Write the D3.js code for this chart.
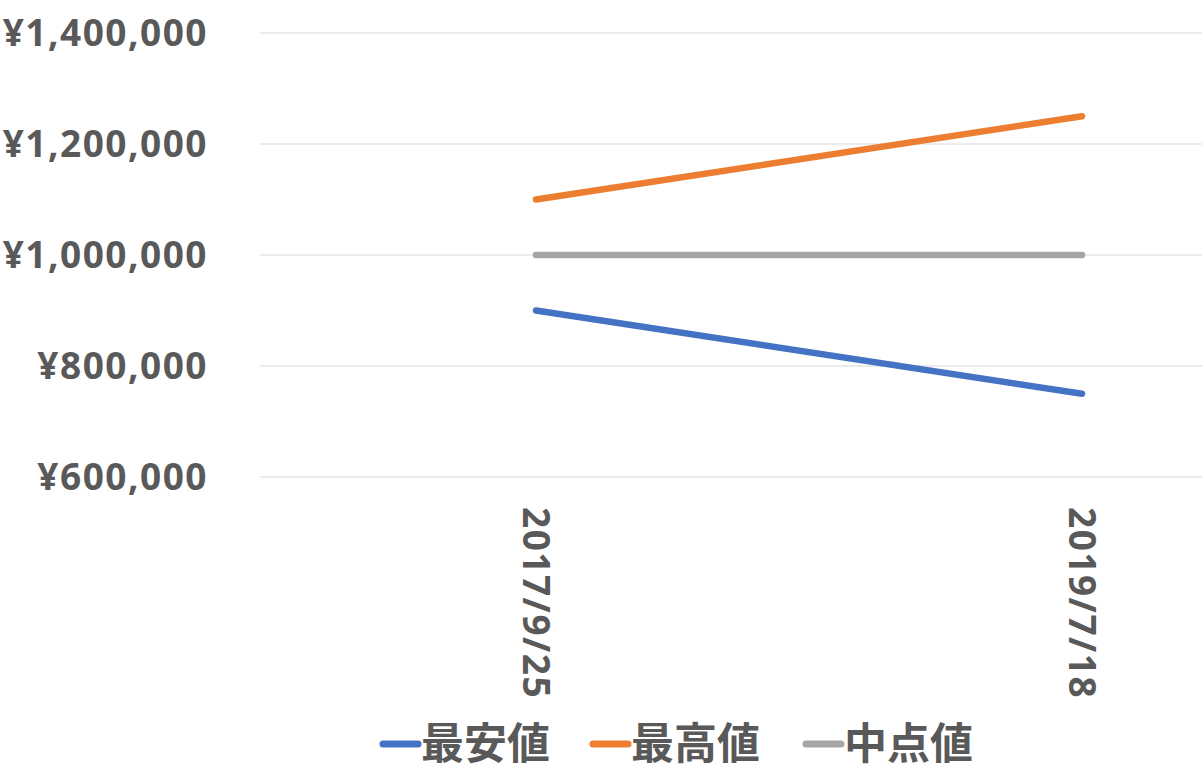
<!DOCTYPE html>
<html>
<head>
<meta charset="utf-8">
<script src="https://cdn.jsdelivr.net/npm/d3@7"></script>
<style>
  body { margin: 0; background: #fff; }
  svg { display: block; }
  text { fill: #595959; font-weight: bold; }
</style>
</head>
<body>
<div id="chart"></div>
<script>
// data
const dates = ['2017/9/25', '2019/7/18'];
const seriesNames = ['最安値', '最高値', '中点値'];
const lowVals = [900000, 750000];
const highVals = [1100000, 1250000];
const midVals = [1000000, 1000000];
const yTicks = [600000, 800000, 1000000, 1200000, 1400000];
const colors = ['#4472C4', '#ED7D31', '#A5A5A5'];

const width = 1202, height = 783;

const svg = d3.select('#chart').append('svg')
  .attr('width', width)
  .attr('height', height);

// plot area runs off the right edge, like the original crop
const x = d3.scaleBand()
  .domain(dates)
  .range([263, 1355]);

const y = d3.scaleLinear()
  .domain([600000, 1400000])
  .range([477, 33]);

const fmt = d => '¥' + d3.format(',')(d);

// gridlines
svg.append('g')
  .selectAll('line')
  .data(yTicks)
  .join('line')
  .attr('x1', 260)
  .attr('x2', width)
  .attr('y1', d => y(d))
  .attr('y2', d => y(d))
  .attr('stroke', '#D9D9D9')
  .attr('stroke-width', 1);

// y labels
svg.append('g')
  .selectAll('text')
  .data(yTicks)
  .join('text')
  .attr('x', 208)
  .attr('y', d => y(d))
  .attr('dy', '0.36em')
  .attr('text-anchor', 'end')
  .style('font-family', '"Open Sans", sans-serif')
  .style('font-size', '37px')
  .style('letter-spacing', '1.5px')
  .text(fmt);

// x labels, rotated
svg.append('g')
  .selectAll('text')
  .data(dates)
  .join('text')
  .attr('transform', d => `translate(${x(d) + x.bandwidth() / 2},507) rotate(90)`)
  .attr('dy', '0.36em')
  .attr('text-anchor', 'start')
  .style('font-family', '"Open Sans", sans-serif')
  .style('font-size', '37px')
  .style('letter-spacing', '1.5px')
  .text(d => d);

// series lines
const series = [lowVals, highVals, midVals].map((vals, i) => ({
  name: seriesNames[i],
  color: colors[i],
  values: vals.map((v, j) => ({ date: dates[j], value: v }))
}));

const line = d3.line()
  .x(d => x(d.date) + x.bandwidth() / 2)
  .y(d => y(d.value));

svg.append('g')
  .selectAll('path')
  .data(series)
  .join('path')
  .attr('d', d => line(d.values))
  .attr('fill', 'none')
  .attr('stroke', d => d.color)
  .attr('stroke-width', 6.5)
  .attr('stroke-linecap', 'round');

// legend
const legendX = [383, 593, 806];
const legend = svg.append('g')
  .selectAll('g')
  .data(series)
  .join('g')
  .attr('transform', (d, i) => `translate(${legendX[i]},744)`);

legend.append('line')
  .attr('x1', 0)
  .attr('x2', 35)
  .attr('stroke', d => d.color)
  .attr('stroke-width', 7)
  .attr('stroke-linecap', 'round');

legend.append('text')
  .attr('x', 38)
  .attr('dy', '0.36em')
  .style('font-family', '"Noto Sans CJK JP", sans-serif')
  .style('font-size', '43px')
  .text(d => d.name);
</script>
</body>
</html>
